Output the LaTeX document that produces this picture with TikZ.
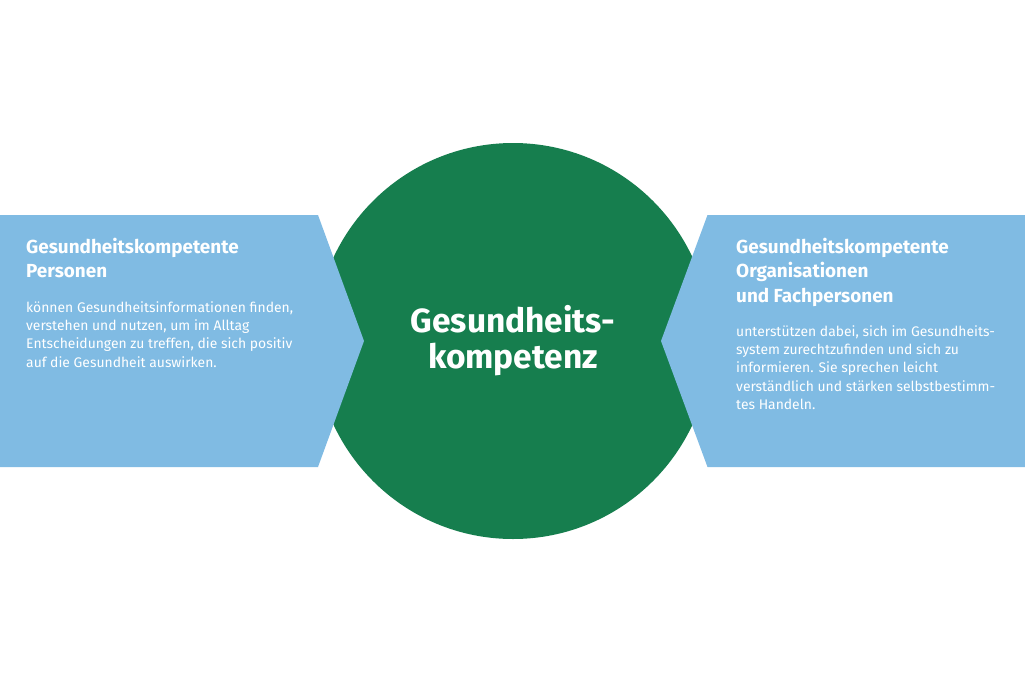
\documentclass[tikz,border=0pt]{standalone}
\usepackage{fontspec}
\setmainfont{Fira Sans}
\definecolor{kreisgreen}{HTML}{167E4E}
\definecolor{pfeilblue}{HTML}{80BBE3}
\tikzstyle{pfeil} = [fill=pfeilblue]
\tikzstyle{kopf} = [text=white, inner sep=0, anchor=north west, align=left, font=\fontsize{18.9}{24.3}\selectfont\bfseries]
\tikzstyle{rumpf} = [text=white, inner sep=0, anchor=north west, align=left, font=\fontsize{13.9}{18.4}\selectfont]
\begin{document}
\begin{tikzpicture}[x=1pt,y=-1pt]
\useasboundingbox (0,0) rectangle (1025,683);
\fill[kreisgreen] (513,341) circle[radius=198];
\fill[pfeil] (0,215)--(318,215)--(364,341)--(318,467)--(0,467)--cycle;
\fill[pfeil] (1025,215)--(707.5,215)--(661,341)--(707.5,467)--(1025,467)--cycle;

\node[text=white, align=center, font=\fontsize{33.5}{36}\selectfont\bfseries] (mitte) at (513,341) {Gesundheits-\\kompetenz};

\node[kopf] (kopflinks) at (26,238) {Gesundheitskompetente\\Personen};
\node[rumpf] (rumpflinks) at (26,301) {können Gesundheitsinformationen finden,\\verstehen und nutzen, um im Alltag\\Entscheidungen zu treffen, die sich positiv\\auf die Gesundheit auswirken.};
\node[kopf] (kopfrechts) at (736,238) {Gesundheitskompetente\\Organisationen\\und Fachpersonen};
\node[rumpf] (rumpfrechts) at (736,325) {unterstützen dabei, sich im Gesundheits-\\system zurechtzufinden und sich zu\\informieren. Sie sprechen leicht\\verständlich und stärken selbstbestimm-\\tes Handeln.};
\end{tikzpicture}
\end{document}
